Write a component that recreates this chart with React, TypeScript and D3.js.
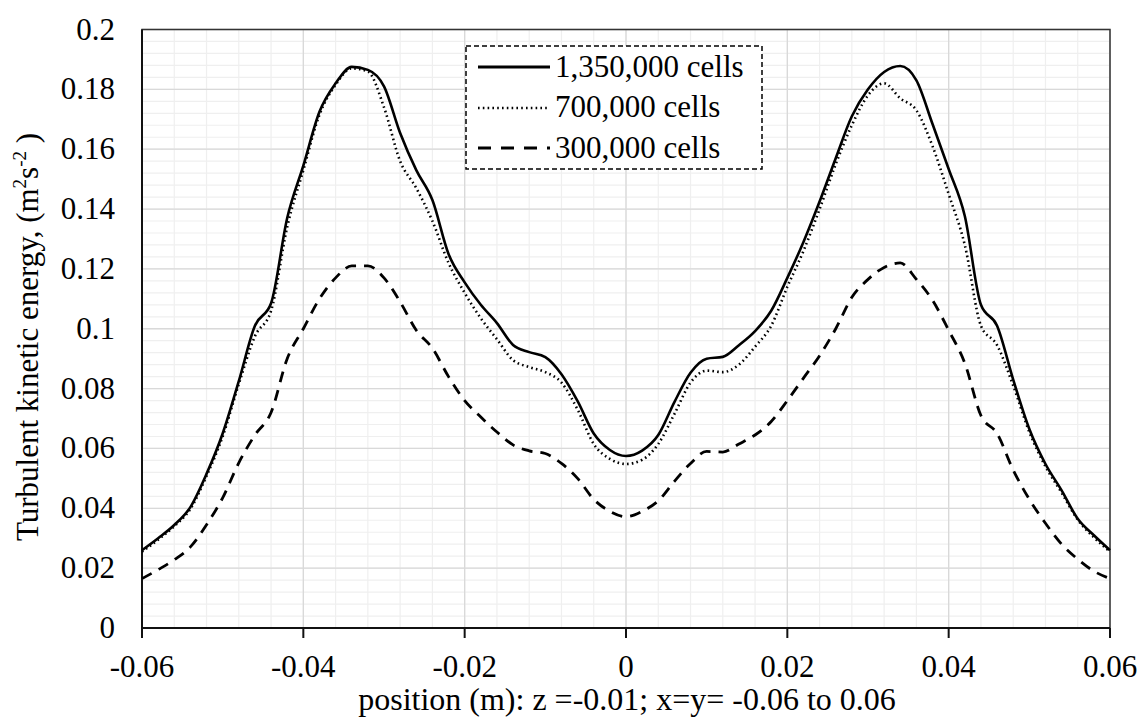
import React from "react";
import * as d3 from "d3";

const positions: number[] = d3.range(61).map((i) => -0.06 + i * 0.002);

const cells1350k: number[] = [
  0.026, 0.030, 0.0344, 0.0404, 0.0515, 0.065, 0.0825, 0.101, 0.1085, 0.137,
  0.1545, 0.1725, 0.182, 0.1875, 0.1865, 0.181, 0.1654, 0.153, 0.143, 0.125,
  0.1155, 0.108, 0.1019, 0.0946, 0.0922, 0.0905, 0.0848, 0.0758, 0.065, 0.0595,
  0.0575,
  0.0593, 0.0645, 0.0755, 0.0853, 0.09, 0.0906, 0.0945, 0.0992, 0.106, 0.117,
  0.129, 0.1425, 0.157, 0.171, 0.18, 0.1858, 0.1878, 0.183, 0.1684, 0.1534,
  0.1377, 0.108, 0.101, 0.083, 0.0665, 0.0548, 0.046, 0.0365, 0.031, 0.026,
];

const cells700k: number[] = [
  0.0255, 0.0295, 0.034, 0.0398, 0.0508, 0.064, 0.0815, 0.0975, 0.106, 0.134,
  0.153, 0.1715, 0.1815, 0.187, 0.186, 0.174, 0.156, 0.147, 0.136, 0.122,
  0.112, 0.1035, 0.0965, 0.0895, 0.0872, 0.0855, 0.082, 0.073, 0.0615, 0.0565,
  0.0548,
  0.0562, 0.0615, 0.0715, 0.082, 0.086, 0.0855, 0.088, 0.094, 0.101, 0.114,
  0.126, 0.14, 0.155, 0.168, 0.178, 0.182, 0.177, 0.173, 0.161, 0.145,
  0.128, 0.101, 0.0945, 0.081, 0.0655, 0.054, 0.0452, 0.0362, 0.0303, 0.0255,
];

const cells300k: number[] = [
  0.0165, 0.0195, 0.0228, 0.0271, 0.0345, 0.0435, 0.0552, 0.0645, 0.072, 0.09,
  0.1, 0.11, 0.117, 0.121, 0.121, 0.117, 0.109, 0.0995, 0.0935, 0.084,
  0.076, 0.0705, 0.0655, 0.0612, 0.0592, 0.0583, 0.055, 0.05, 0.043, 0.039,
  0.0372,
  0.039, 0.0425, 0.049, 0.055, 0.059, 0.0588, 0.0615, 0.0645, 0.069, 0.076,
  0.0835, 0.091, 0.1, 0.1105, 0.1165, 0.1205, 0.122, 0.1165, 0.1095, 0.0995,
  0.0885, 0.071, 0.065, 0.0528, 0.043, 0.035, 0.028, 0.023, 0.019, 0.0165,
];

const seriesNames: string[] = ["1,350,000 cells", "700,000 cells", "300,000 cells"];
const xTicks: number[] = [-0.06, -0.04, -0.02, 0, 0.02, 0.04, 0.06];
const xTickLabels: string[] = ["-0.06", "-0.04", "-0.02", "0", "0.02", "0.04", "0.06"];
const yTicks: number[] = [0, 0.02, 0.04, 0.06, 0.08, 0.1, 0.12, 0.14, 0.16, 0.18, 0.2];
const yTickLabels: string[] = ["0", "0.02", "0.04", "0.06", "0.08", "0.1", "0.12", "0.14", "0.16", "0.18", "0.2"];

const W = 1144;
const H = 717;
const L = 142, R = 1110, T = 29.5, B = 628;
const FONT = "Liberation Serif, DejaVu Serif, serif";

export default function App() {
  const x = d3.scaleLinear().domain([-0.06, 0.06]).range([L, R]);
  const y = d3.scaleLinear().domain([0, 0.2]).range([B, T]);
  const minorX = d3.range(31).map((i) => -0.06 + i * 0.004);
  const minorY = d3.range(51).map((i) => i * 0.004);
  const line = d3
    .line<number>()
    .x((_, i) => x(positions[i]))
    .y((v) => y(v))
    .curve(d3.curveMonotoneX);
  const styles = [
    { w: 2.6, dash: "none" },
    { w: 2.6, dash: "1.6 3.2" },
    { w: 2.8, dash: "11 8" },
  ];
  const data = [cells1350k, cells700k, cells300k];
  const legendY = [67, 108, 148];
  const legendTextY = [77, 117, 158];
  return (
    <svg width={W} height={H} style={{ position: "absolute", left: 0, top: 0, background: "#fff", fontFamily: FONT }}>
      <rect x={0} y={0} width={W} height={H} fill="#fff" />
      {minorX.map((v, i) => (
        <line key={"mx" + i} x1={x(v)} x2={x(v)} y1={T} y2={B} stroke="#efefef" strokeWidth={1.2} />
      ))}
      {minorY.map((v, i) => (
        <line key={"my" + i} x1={L} x2={R} y1={y(v)} y2={y(v)} stroke="#efefef" strokeWidth={1.2} />
      ))}
      {xTicks.map((v, i) => (
        <line key={"gx" + i} x1={x(v)} x2={x(v)} y1={T} y2={B} stroke="#d9d9d9" strokeWidth={1.3} />
      ))}
      {yTicks.map((v, i) => (
        <line key={"gy" + i} x1={L} x2={R} y1={y(v)} y2={y(v)} stroke="#d9d9d9" strokeWidth={1.3} />
      ))}
      <rect x={L} y={T} width={R - L} height={B - T} fill="none" stroke="#333" strokeWidth={1.5} />
      <line x1={L} x2={L} y1={T} y2={B} stroke="#111" strokeWidth={2} />
      <line x1={L} x2={R} y1={B} y2={B} stroke="#111" strokeWidth={2} />
      {xTicks.map((v, i) => (
        <line key={"tx" + i} x1={x(v)} x2={x(v)} y1={B} y2={B + 10} stroke="#111" strokeWidth={2} />
      ))}
      {data.map((d, i) => (
        <path key={"s" + i} d={line(d) || ""} fill="none" stroke="#000" strokeWidth={styles[i].w}
          strokeDasharray={styles[i].dash} strokeLinejoin="round" />
      ))}
      {xTicks.map((v, i) => (
        <text key={"xl" + i} x={x(v)} y={677} textAnchor="middle" fontSize={31} fill="#000">{xTickLabels[i]}</text>
      ))}
      {yTicks.map((v, i) => (
        <text key={"yl" + i} x={115} y={y(v) + 10} textAnchor="end" fontSize={31} fill="#000">{yTickLabels[i]}</text>
      ))}
      <text x={627} y={710} textAnchor="middle" fontSize={32} fill="#000">position (m): z =-0.01; x=y= -0.06 to 0.06</text>
      <text transform={`translate(38,${337}) rotate(-90)`} textAnchor="middle" fontSize={31} fill="#000">
        Turbulent kinetic energy, (m<tspan fontSize={19} dy={-12}>2</tspan><tspan dy={12}>s</tspan><tspan fontSize={19} dy={-12}>-2</tspan><tspan dy={12}> )</tspan>
      </text>
      <rect x={466} y={46} width={296} height={123} fill="#fff" stroke="#000" strokeWidth={1.5} strokeDasharray="5 3" />
      {seriesNames.map((n, i) => (
        <g key={"lg" + i}>
          <line x1={478} x2={550} y1={legendY[i]} y2={legendY[i]} stroke="#000" strokeWidth={styles[i].w + (i === 0 ? 0.6 : 0)}
            strokeDasharray={i === 2 ? "13 10" : styles[i].dash} />
          <text x={555} y={legendTextY[i]} fontSize={31} fill="#000">{n}</text>
        </g>
      ))}
    </svg>
  );
}
